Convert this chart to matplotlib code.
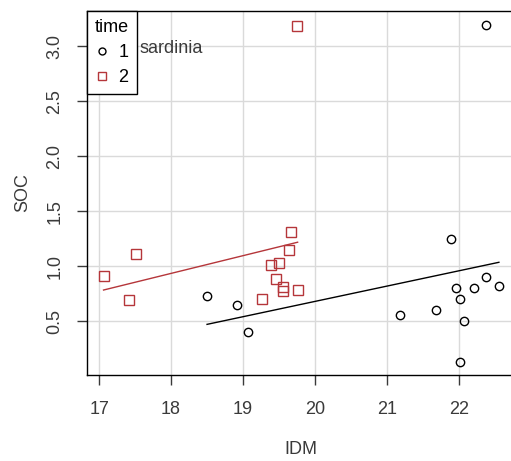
import numpy as np
import matplotlib.pyplot as plt
from matplotlib.lines import Line2D

plt.rcParams['font.family'] = ['Liberation Sans', 'DejaVu Sans']

# time 1 (black circles)
idm_t1 = [18.50, 18.92, 19.07, 21.19, 21.68, 21.90, 21.97, 22.21,
          22.38, 22.56, 22.02, 22.08, 22.02, 22.38]
soc_t1 = [0.73, 0.65, 0.40, 0.56, 0.60, 1.25, 0.80, 0.80,
          0.90, 0.82, 0.70, 0.50, 0.13, 3.19]

# time 2 (red squares)
idm_t2 = [17.06, 17.41, 17.51, 19.67, 19.64, 19.50, 19.39, 19.46,
          19.55, 19.55, 19.76, 19.26, 19.75]
soc_t2 = [0.91, 0.69, 1.11, 1.31, 1.15, 1.03, 1.01, 0.88,
          0.81, 0.77, 0.78, 0.70, 3.18]

# fitted lines (intercept, slope)
fit_t1 = (-2.101, 0.139)
fit_t2 = (-1.964, 0.161)

red = '#b5363a'
txt = '#3a3a3a'

fig = plt.figure(figsize=(5.11, 4.61), dpi=100)
ax = fig.add_axes([87 / 511, 86 / 461, 427 / 511, 364 / 461])

ax.grid(True, color='#dadada', linewidth=1)
ax.set_axisbelow(True)

ax.plot(idm_t1, soc_t1, 'o', mfc='none', mec='black', ms=6, mew=1)
ax.plot(idm_t2, soc_t2, 's', mfc='none', mec=red, ms=7, mew=1)

for xs, (a, b), c in [(idm_t1, fit_t1, 'black'), (idm_t2, fit_t2, red)]:
    xl = np.array([min(xs), max(xs)])
    ax.plot(xl, a + b * xl, color=c, linewidth=1)

ax.set_xlim(16.83, 22.77)
ax.set_ylim(0.01, 3.32)
ax.set_xticks([17, 18, 19, 20, 21, 22])
ax.set_yticks([0.5, 1.0, 1.5, 2.0, 2.5, 3.0])
ax.set_yticklabels(['0.5', '1.0', '1.5', '2.0', '2.5', '3.0'], rotation=90, va='center')
ax.tick_params(direction='out', length=7, width=1, labelsize=13, colors=txt)
ax.tick_params(axis='x', pad=12)
ax.tick_params(axis='y', pad=10)

ax.spines['right'].set_visible(False)
for s in ['left', 'bottom', 'top']:
    ax.spines[s].set_linewidth(1)

ax.set_xlabel('IDM', fontsize=13, color=txt, labelpad=16)
ax.set_ylabel('SOC', fontsize=13, color=txt, labelpad=11)

handles = [Line2D([], [], marker='o', ls='none', mfc='none', mec='black', ms=5),
           Line2D([], [], marker='s', ls='none', mfc='none', mec=red, ms=6)]
leg = ax.legend(handles, ['1', '2'], title='time', loc='upper left',
                bbox_to_anchor=(0, 1), borderaxespad=0, fancybox=False,
                edgecolor='black', fontsize=13, title_fontsize=13,
                handlelength=0.8, handletextpad=0.5, borderpad=0.45,
                labelspacing=0.45, framealpha=1)
leg.get_frame().set_linewidth(1)
leg._legend_box.align = 'left'

ax.text(139, 461 - 48, 'sardinia', transform=None, fontsize=13, color=txt,
        va='center', ha='left')

fig.savefig('out.png', dpi=100)
